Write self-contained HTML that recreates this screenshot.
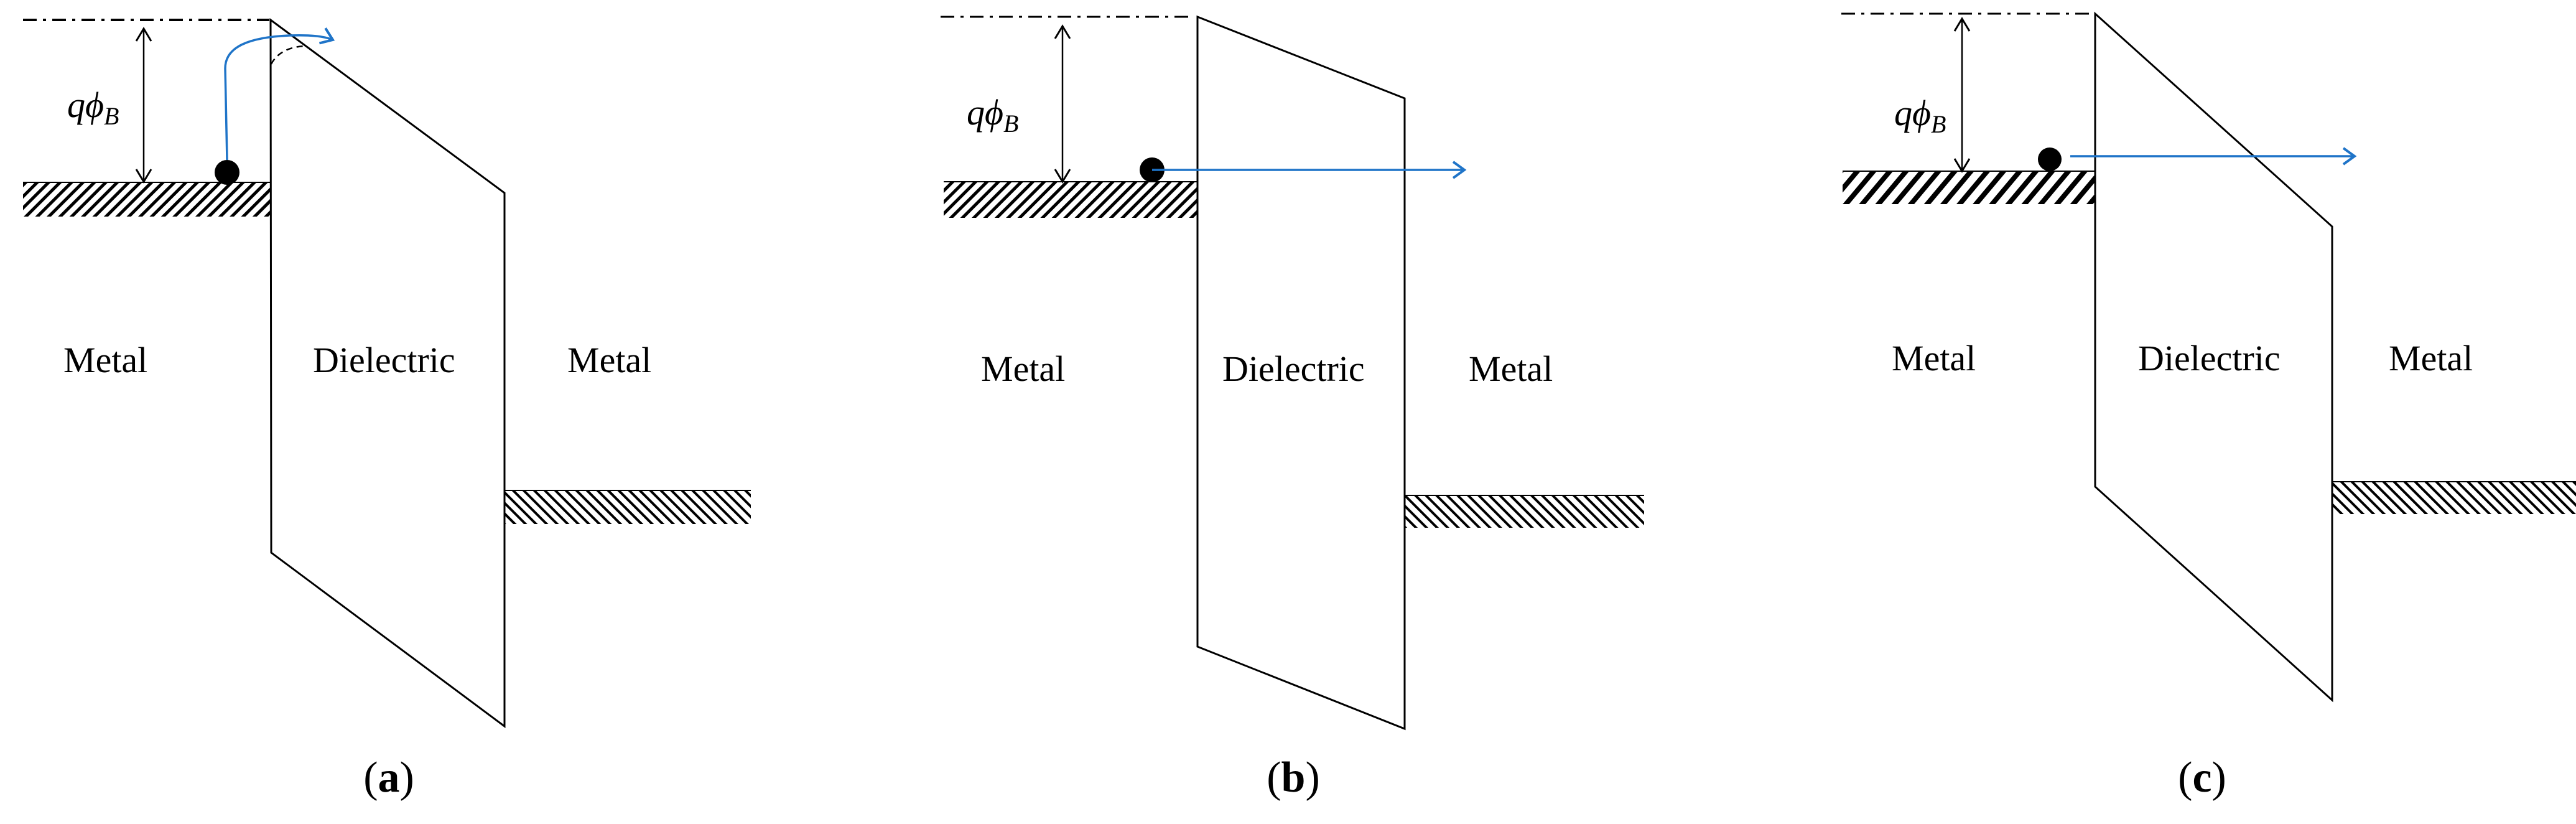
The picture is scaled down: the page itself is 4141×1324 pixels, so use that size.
<!DOCTYPE html>
<html><head><meta charset="utf-8"><style>html,body{margin:0;padding:0;background:#fff}svg{display:block}</style></head>
<body>
<svg width="4141" height="1324" viewBox="0 0 4141 1324" xmlns="http://www.w3.org/2000/svg">
<defs>
<pattern id="hf" width="13" height="13" patternUnits="userSpaceOnUse" patternTransform="rotate(45)">
<rect x="0" y="0" width="5" height="13" fill="#000"/></pattern>
<pattern id="hb" width="12" height="12" patternUnits="userSpaceOnUse" patternTransform="rotate(-45)">
<rect x="0" y="0" width="4" height="12" fill="#000"/></pattern>
<pattern id="hc" width="20" height="20" patternUnits="userSpaceOnUse" patternTransform="rotate(40)">
<rect x="0" y="0" width="8" height="20" fill="#000"/></pattern>
<marker id="ah" markerWidth="34" markerHeight="34" refX="26" refY="15" orient="auto" markerUnits="userSpaceOnUse" style="overflow:visible">
<path d="M8,2 L26,15 L8,28" fill="none" stroke="#1f74c8" stroke-width="4"/></marker>
<marker id="ka" markerWidth="30" markerHeight="30" refX="22" refY="13" orient="auto-start-reverse" markerUnits="userSpaceOnUse" style="overflow:visible">
<path d="M2,1 L22,13 L2,25" fill="none" stroke="#000" stroke-width="3"/></marker>
</defs>
<g font-family="'Liberation Serif', serif" fill="#000">
<!-- Panel a -->
<line x1="37" y1="32" x2="433" y2="32" stroke="#000" stroke-width="4" stroke-dasharray="22 10 5 10"/>
<rect x="37" y="293" width="399" height="55" fill="url(#hf)"/>
<line x1="37" y1="293" x2="436" y2="293" stroke="#000" stroke-width="2"/>
<rect x="811" y="788" width="396" height="54" fill="url(#hb)"/>
<line x1="811" y1="788" x2="1207" y2="788" stroke="#000" stroke-width="2"/>
<polygon points="435,32 811,310 811,1167 436,888" fill="none" stroke="#000" stroke-width="3"/>
<line x1="231" y1="46" x2="231" y2="292" stroke="#000" stroke-width="2.5" marker-start="url(#ka)" marker-end="url(#ka)"/>
<text x="108" y="188" font-size="58" font-style="italic">qϕ<tspan font-size="40" dy="12">B</tspan></text>
<circle cx="365" cy="277" r="20"/>
<path d="M436,103 C445,85 465,75 490,74" fill="none" stroke="#000" stroke-width="2.5" stroke-dasharray="10 7"/>
<path d="M365,257 L362,110 C362,75 400,60 465,57 C500,56 520,58 535,64" fill="none" stroke="#1f74c8" stroke-width="3.5" marker-end="url(#ah)"/>
<text x="102" y="598" font-size="58">Metal</text>
<text x="503" y="598" font-size="58">Dielectric</text>
<text x="912" y="598" font-size="58">Metal</text>
<text x="625" y="1272" font-size="70" text-anchor="middle">(<tspan font-weight="bold">a</tspan>)</text>

<!-- Panel b -->
<line x1="1512" y1="27" x2="1912" y2="27" stroke="#000" stroke-width="3" stroke-dasharray="22 10 5 10"/>
<rect x="1517" y="292" width="408" height="58" fill="url(#hf)"/>
<line x1="1517" y1="292" x2="1925" y2="292" stroke="#000" stroke-width="2"/>
<rect x="2258" y="796" width="385" height="52" fill="url(#hb)"/>
<line x1="2258" y1="796" x2="2643" y2="796" stroke="#000" stroke-width="2"/>
<polygon points="1925,27 2258,158 2258,1171 1925,1039" fill="none" stroke="#000" stroke-width="3"/>
<line x1="1708" y1="42" x2="1708" y2="292" stroke="#000" stroke-width="2.5" marker-start="url(#ka)" marker-end="url(#ka)"/>
<text x="1554" y="200" font-size="58" font-style="italic">qϕ<tspan font-size="40" dy="12">B</tspan></text>
<circle cx="1852" cy="273" r="20"/>
<line x1="1852" y1="273" x2="2354" y2="273" stroke="#1f74c8" stroke-width="3.5" marker-end="url(#ah)"/>
<text x="1577" y="612" font-size="58">Metal</text>
<text x="1965" y="612" font-size="58">Dielectric</text>
<text x="2361" y="612" font-size="58">Metal</text>
<text x="2079" y="1272" font-size="70" text-anchor="middle">(<tspan font-weight="bold">b</tspan>)</text>

<!-- Panel c -->
<line x1="2960" y1="22" x2="3367" y2="22" stroke="#000" stroke-width="3" stroke-dasharray="22 10 5 10"/>
<rect x="2962" y="275" width="406" height="53" fill="url(#hc)"/>
<line x1="2962" y1="275" x2="3368" y2="275" stroke="#000" stroke-width="2"/>
<rect x="3749" y="774" width="392" height="52" fill="url(#hb)"/>
<line x1="3749" y1="774" x2="4141" y2="774" stroke="#000" stroke-width="2"/>
<polygon points="3368,22 3749,364 3749,1125 3368,782" fill="none" stroke="#000" stroke-width="3"/>
<line x1="3154" y1="30" x2="3154" y2="275" stroke="#000" stroke-width="2.5" marker-start="url(#ka)" marker-end="url(#ka)"/>
<text x="3045" y="201" font-size="58" font-style="italic">qϕ<tspan font-size="40" dy="12">B</tspan></text>
<circle cx="3295" cy="256" r="19"/>
<line x1="3328" y1="251" x2="3785" y2="251" stroke="#1f74c8" stroke-width="3.5" marker-end="url(#ah)"/>
<text x="3041" y="595" font-size="58">Metal</text>
<text x="3437" y="595" font-size="58">Dielectric</text>
<text x="3840" y="595" font-size="58">Metal</text>
<text x="3540" y="1272" font-size="70" text-anchor="middle">(<tspan font-weight="bold">c</tspan>)</text>
</g>
</svg>
</body></html>
